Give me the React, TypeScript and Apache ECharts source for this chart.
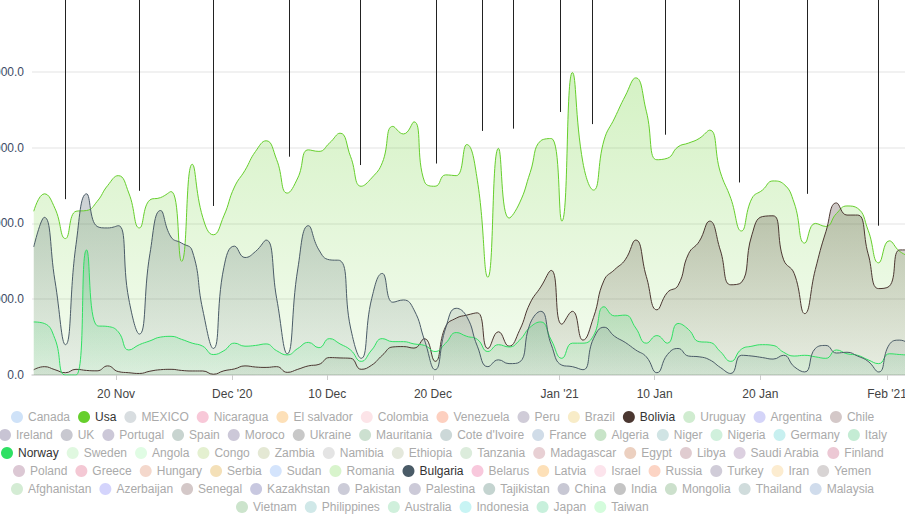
import React, { useEffect, useRef } from "react";
import * as echarts from "echarts";

const startDate = "2020-11-12T05:00:00Z";
const axisStart = "2020-11-12T01:00:00Z";
const axisEnd = "2021-02-02T16:50:00Z";

const usa = [
  2160, 2390, 2200, 1800, 2160, 2170, 2290, 2500, 2630, 2400,
  1940, 2310, 2340, 2420, 1500, 2780, 2080, 1850, 2100, 2480,
  2700, 2950, 3090, 2840, 2400, 2600, 2970, 2950, 3060, 3190,
  2880, 2490, 2600, 2800, 3280, 3180, 3340, 2550, 2490, 2640,
  2630, 3040, 2570, 1290, 2990, 2070, 2270, 2670, 3090, 3120,
  2030, 3990, 2800, 2440, 3100, 3390, 3680, 3920, 3480, 2840,
  2860, 3010, 3060, 3120, 3230, 2680, 2330, 1900, 2330, 2440,
  2560, 2520, 2270, 1740, 2000, 1960, 2130, 2230, 2200, 1910,
  1480, 1770, 1630, 1560,
];

const bolivia = [
  70, 110, 70, 30, 75, 60, 55, 120, 45, 30,
  20, 50, 70, 75, 60, 53, 53, 10, 55, 80,
  120, 105, 100, 110, 35, 75, 120, 140, 230, 225,
  220, 75, 130, 260, 370, 375, 355, 480, 180, 640,
  750, 790, 820, 350, 570, 380, 590, 950, 1160, 1380,
  670, 840, 460, 760, 1250, 1390, 1520, 1780, 1300, 860,
  1090, 1180, 1600, 1760, 2030, 1650, 1190, 1220, 1850, 2090,
  2100, 1520, 1340, 810, 1390, 1890, 2270, 2110, 2110, 1600,
  1140, 1170, 1650, 1650,
];

const norway = [
  700, 680, 480, 0, 0, 1650, 650, 640, 570, 330,
  400, 450, 500, 510, 470, 420, 380, 270, 320, 420,
  380, 390, 410, 320, 265, 350, 430, 360, 480, 410,
  330, 180, 330, 480, 440, 440, 410, 390, 310, 420,
  560, 510, 470, 310, 400, 370, 460, 630, 700, 460,
  220, 420, 420, 520, 900, 780, 790, 620, 420, 520,
  420, 680, 600, 440, 430, 310, 180, 340, 380, 400,
  390, 300, 250, 260, 240, 220, 330, 280, 260, 200,
  150, 280, 270, 260,
];

const bulgaria = [
  1690, 2080, 1250, 400, 1720, 2390, 1960, 1940, 1970, 1000,
  540, 1600, 2170, 1820, 1740, 1640, 860, 350, 1420, 1700,
  1550, 1630, 1780, 1010, 280, 1400, 1970, 1650, 1520, 1510,
  620, 220, 1010, 1340, 960, 990, 860, 460, 70, 620,
  880, 770, 380, 110, 200, 150, 170, 680, 840, 400,
  130, 110, 70, 480, 630, 510, 430, 330, 240, 30,
  270, 350, 250, 240, 200, 100, 20, 260, 250, 230,
  210, 260, 110, 40, 350, 390, 290, 300, 250, 180,
  40, 400, 460, 400,
];

const markerDates = [
  "2020-11-15T05:00:00Z", "2020-11-22T05:00:00Z", "2020-11-29T05:00:00Z",
  "2020-12-06T09:00:00Z", "2020-12-13T02:00:00Z", "2020-12-20T07:00:00Z",
  "2020-12-24T15:30:00Z", "2020-12-27T14:00:00Z", "2021-01-01T00:40:00Z",
  "2021-01-04T01:25:00Z", "2021-01-10T23:20:00Z", "2021-01-17T23:20:00Z",
  "2021-01-24T09:50:00Z", "2021-01-31T05:00:00Z",
];
const markerValues = [2320, 2430, 2230, 2880, 2770, 2790, 3220, 3250, 3470, 3310, 3170, 2540, 2390, 1970];

const tickDates = [
  "2020-11-20T00:00:00Z", "2020-12-01T00:00:00Z", "2020-12-10T00:00:00Z", "2020-12-20T00:00:00Z",
  "2021-01-01T00:00:00Z", "2021-01-10T00:00:00Z", "2021-01-20T00:00:00Z", "2021-02-01T00:00:00Z",
];
const tickLabels = ["20 Nov", "Dec '20", "10 Dec", "20 Dec", "Jan '21", "10 Jan", "20 Jan", "Feb '21"];

const legendRows: string[][] = [
  ["Canada", "Usa", "MEXICO", "Nicaragua", "El salvador", "Colombia", "Venezuela", "Peru", "Brazil", "Bolivia", "Uruguay", "Argentina", "Chile"],
  ["Ireland", "UK", "Portugal", "Spain", "Moroco", "Ukraine", "Mauritania", "Cote d'Ivoire", "France", "Algeria", "Niger", "Nigeria", "Germany", "Italy"],
  ["Norway", "Sweden", "Angola", "Congo", "Zambia", "Namibia", "Ethiopia", "Tanzania", "Madagascar", "Egypt", "Libya", "Saudi Arabia", "Finland"],
  ["Poland", "Greece", "Hungary", "Serbia", "Sudan", "Romania", "Bulgaria", "Belarus", "Latvia", "Israel", "Russia", "Turkey", "Iran", "Yemen"],
  ["Afghanistan", "Azerbaijan", "Senegal", "Kazakhstan", "Pakistan", "Palestina", "Tajikistan", "China", "India", "Mongolia", "Thailand", "Malaysia"],
  ["Vietnam", "Philippines", "Australia", "Indonesia", "Japan", "Taiwan"],
];

const activeColors: Record<string, string> = {
  Usa: "#66cf2c",
  Bolivia: "#4b3731",
  Norway: "#2fe063",
  Bulgaria: "#4a5b67",
};

const seriesValues: Record<string, number[]> = {
  Usa: usa,
  Bolivia: bolivia,
  Norway: norway,
  Bulgaria: bulgaria,
};

const paleColors: Record<string, string> = {
  Canada: "#cfe2f8", MEXICO: "#d8dde0", Nicaragua: "#f8c8d8", "El salvador": "#fde0b8", Colombia: "#fce4e8",
  Venezuela: "#fdd0c0", Peru: "#d0ccd8", Brazil: "#f8ecc8", Uruguay: "#d0ecd0", Argentina: "#d4d4f8", Chile: "#d4c8c8",
  Ireland: "#c8c4d4", UK: "#c8c8d0", Portugal: "#ccc8d8", Spain: "#c8d4d0", Moroco: "#ccc8d8", Ukraine: "#c8c8c8",
  Mauritania: "#cce0d0", "Cote d'Ivoire": "#ccd8d8", France: "#d0dce8", Algeria: "#c8e4c8", Niger: "#d0e4e4",
  Nigeria: "#d0f0dc", Germany: "#c8f0f0", Italy: "#c4ecd4",
  Sweden: "#e0f8e0", Angola: "#e0fce4", Congo: "#e4f0d0", Zambia: "#e4e8d4", Namibia: "#e4e4e4", Ethiopia: "#e4e8dc",
  Tanzania: "#dcecdc", Madagascar: "#e8d0d4", Egypt: "#ecd0c0", Libya: "#e0ccd0", "Saudi Arabia": "#dcd0e0", Finland: "#ecc8d4",
  Poland: "#dcc8d4", Greece: "#f4c8d4", Hungary: "#f4d8cc", Serbia: "#f4e0b8", Sudan: "#d4e4fc", Romania: "#d8f4cc",
  Belarus: "#f8c8dc", Latvia: "#fde0b8", Israel: "#fce4ec", Russia: "#fcd4c4", Turkey: "#d0ccd8", Iran: "#fcecd0", Yemen: "#d8d4d4",
  Afghanistan: "#d4ecd4", Azerbaijan: "#d4d4fc", Senegal: "#d4c8c8", Kazakhstan: "#c8c8e0", Pakistan: "#ccccd8",
  Palestina: "#cccad8", Tajikistan: "#c4d4d0", China: "#c8c8d4", India: "#c4c4c4", Mongolia: "#cce0cc", Thailand: "#d0dcdc",
  Malaysia: "#d0dcec",
  Vietnam: "#cce4cc", Philippines: "#d0e8e8", Australia: "#d0f0dc", Indonesia: "#c8f4f4", Japan: "#c8f0dc", Taiwan: "#d4fcdc",
};

const DAY = 86400000;
const LEGEND_FONT = '12px "Liberation Sans"';
const ICON = 12;
const ICON_TEXT_GAP = 5;
const ITEM_GAP = 8;
const LEGEND_CENTER = 442.5;

function rgba(hex: string, a: number) {
  const n = parseInt(hex.slice(1), 16);
  return `rgba(${(n >> 16) & 255},${(n >> 8) & 255},${n & 255},${a})`;
}

export default function App() {
  const ref = useRef<HTMLDivElement>(null);

  useEffect(() => {
    if (!ref.current) return;
    const chart = echarts.init(ref.current, undefined, { renderer: "svg" });
    const t0 = Date.parse(startDate);
    const tickMs = tickDates.map((d) => Date.parse(d));
    const labelFor = (v: number) => {
      let best = 0;
      let bd = Infinity;
      tickMs.forEach((t, i) => {
        const dd = Math.abs(t - v);
        if (dd < bd) { bd = dd; best = i; }
      });
      return bd < DAY / 2 ? tickLabels[best] : "";
    };

    const ctx = document.createElement("canvas").getContext("2d");
    if (ctx) ctx.font = LEGEND_FONT;
    const textW = (s: string) => (ctx ? ctx.measureText(s).width : s.length * 6.5);

    const allNames = legendRows.flat();
    const series: any[] = allNames.map((name) => {
      const values = seriesValues[name];
      const color = activeColors[name] || paleColors[name];
      if (!values) {
        return { name, type: "line", color, data: [] };
      }
      const s: any = {
        name,
        type: "line",
        color,
        smooth: true,
        showSymbol: false,
        symbol: "none",
        lineStyle: { width: 1, color },
        areaStyle: {
          color: new echarts.graphic.LinearGradient(0, 0, 0, 1, [
            { offset: 0, color: rgba(color, 0.4) },
            { offset: 1, color: rgba(color, 0.1) },
          ]),
        },
        emphasis: { disabled: true },
        data: values.map((v, i) => [t0 + i * DAY, v]),
      };
      if (name === "Usa") {
        s.markLine = {
          silent: true,
          symbol: ["none", "none"],
          label: { show: false },
          lineStyle: { color: "#222", width: 1, type: "solid" },
          emphasis: { disabled: true },
          data: markerDates.map((d, i) => [
            { coord: [Date.parse(d), markerValues[i]] },
            { coord: [Date.parse(d), 5000] },
          ]),
        };
      }
      return s;
    });

    const legends = legendRows.map((row, r) => {
      const rowWidth =
        row.reduce((sum, n) => sum + ICON + ICON_TEXT_GAP + textW(n), 0) + ITEM_GAP * (row.length - 1);
      return {
        type: "plain",
        orient: "horizontal",
        left: Math.round(LEGEND_CENTER - rowWidth / 2),
        top: 411 + r * 18,
        padding: 0,
        itemWidth: ICON,
        itemHeight: ICON,
        itemGap: ITEM_GAP,
        icon: "circle",
        textStyle: { fontSize: 12, color: "#aaa", fontFamily: "Liberation Sans" },
        data: row.map((name) => {
          const active = !!activeColors[name];
          const color = activeColors[name] || paleColors[name];
          return {
            name,
            itemStyle: { color },
            textStyle: { color: active ? "#333" : "#aaa" },
          };
        }),
      };
    });

    chart.setOption({
      animation: false,
      textStyle: { fontFamily: "Liberation Sans" },
      grid: { left: 32, right: 0, top: -4, bottom: 146, containLabel: false, outerBoundsMode: "none" },
      legend: legends,
      xAxis: {
        type: "value",
        scale: true,
        min: Date.parse(axisStart),
        max: Date.parse(axisEnd),
        axisLine: { lineStyle: { color: "#d8d8d8", width: 1.5 } },
        axisTick: { show: true, customValues: tickMs, length: 5, lineStyle: { color: "#ccc" } },
        axisLabel: {
          customValues: tickMs,
          formatter: (v: number) => labelFor(v),
          margin: 13,
          color: "#444",
          fontSize: 12,
        },
        splitLine: { show: false },
      },
      yAxis: {
        type: "value",
        min: 0,
        max: 5000,
        interval: 1000,
        axisLine: { show: false },
        axisTick: { show: false },
        axisLabel: {
          formatter: (v: number) => v.toFixed(1),
          color: "#3d4b66",
          fontSize: 12,
          margin: 8,
          showMaxLabel: false,
        },
        splitLine: { lineStyle: { color: "#ececec", width: 1.5 } },
      },
      series,
    });

    return () => chart.dispose();
  }, []);

  return (
    <div
      ref={ref}
      style={{ position: "absolute", left: 0, top: 0, width: 905, height: 521 }}
    />
  );
}
